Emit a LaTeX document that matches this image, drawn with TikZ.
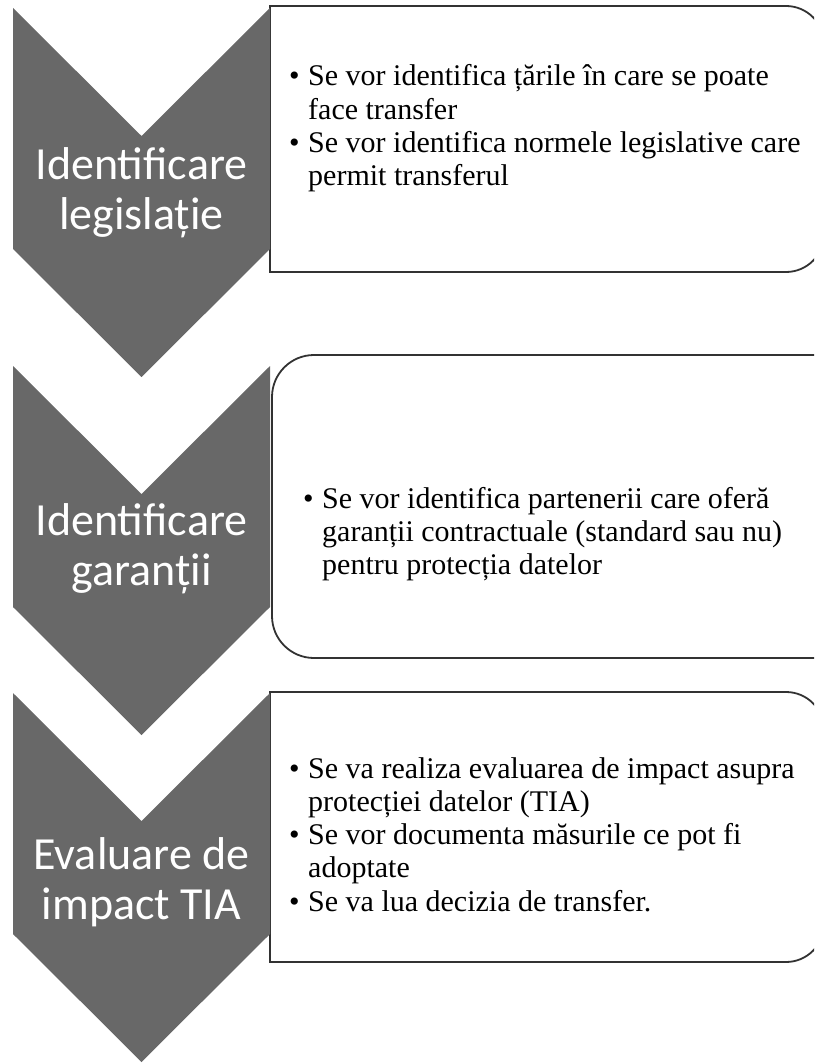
\documentclass[tikz,border=0pt]{standalone}
\usepackage{fontspec}
\setmainfont{Liberation Serif}
\newfontfamily\chevfont{Carlito}
\definecolor{chevgray}{RGB}{104,104,104}
\definecolor{boxline}{RGB}{50,50,50}
\tikzset{
  chev/.style={fill=chevgray, draw=none},
  infobox/.style={draw=boxline, line width=1.8pt, fill=white},
  chevtext/.style={text=white, align=center, inner sep=0pt, font=\chevfont\fontsize{46}{50}\selectfont},
  bultext/.style={anchor=base west, inner sep=0pt, font=\fontsize{30}{33.3}\selectfont},
}
\newcommand{\chevpath}[1]{(13,-#1) -- (141.5,-#1-128) -- (270,-#1) -- (270,-#1-241) -- (141.5,-#1-369) -- (13,-#1-241) -- cycle}
\newcommand{\bulletrows}[1]{\begin{tabular}[t]{@{}c@{\hspace{8.5pt}}l@{}}#1\end{tabular}}
\begin{document}
\begin{tikzpicture}[x=1pt,y=1pt]
\useasboundingbox (0,0) rectangle (814,-1064);
\clip (0,0) rectangle (814,-1064);
% boxes
\draw[infobox] (270,-6) -- (786,-6) arc[start angle=90,end angle=0,radius=38pt] -- (824,-234) arc[start angle=0,end angle=-90,radius=38pt] -- (270,-272) -- cycle;
\draw[infobox, rounded corners=42pt] (272,-355) rectangle (870,-658);
\draw[infobox] (270,-692) -- (786,-692) arc[start angle=90,end angle=0,radius=38pt] -- (824,-924) arc[start angle=0,end angle=-90,radius=38pt] -- (270,-962) -- cycle;
% chevrons
\fill[chev] \chevpath{8};
\fill[chev] \chevpath{366};
\fill[chev] \chevpath{693};
% chevron labels
\node[chevtext] (c1) at (141.5,-193) {Identificare\\legislație};
\node[chevtext] (c2) at (141.5,-549) {Identificare\\garanții};
\node[chevtext] (c3) at (141.5,-882) {Evaluare de\\impact TIA};
% box texts
\node[bultext] (t1) at (289,-86) {\bulletrows{
•& Se vor identifica țările în care se poate\\
 & face transfer\\
•& Se vor identifica normele legislative care\\
 & permit transferul}};
\node[bultext] (t2) at (303,-508) {\bulletrows{
•& Se vor identifica partenerii care oferă\\
 & garanții contractuale (standard sau nu)\\
 & pentru protecția datelor}};
\node[bultext] (t3) at (289,-778) {\bulletrows{
•& Se va realiza evaluarea de impact asupra\\
 & protecției datelor (TIA)\\
•& Se vor documenta măsurile ce pot fi\\
 & adoptate\\
•& Se va lua decizia de transfer.}};
\end{tikzpicture}
\end{document}
